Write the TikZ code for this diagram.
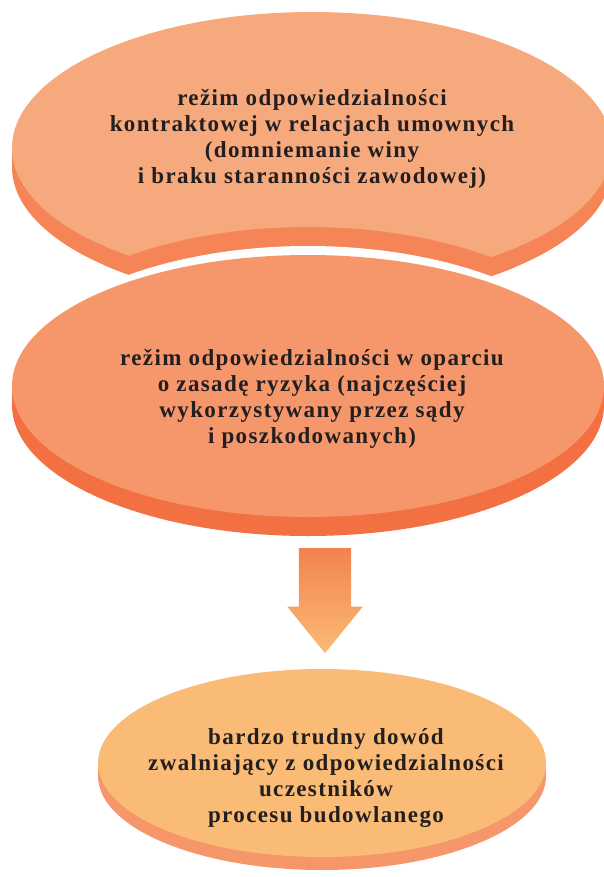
\documentclass[tikz,border=0pt]{standalone}
\usepackage{fontspec}
\setmainfont{Liberation Serif}
\usetikzlibrary{shapes.arrows}

\definecolor{pinkface}{RGB}{247,169,126}
\definecolor{pinkside}{RGB}{245,132,87}
\definecolor{orangeface}{RGB}{246,150,107}
\definecolor{orangeside}{RGB}{243,112,66}
\definecolor{yellowface}{RGB}{250,187,118}
\definecolor{arrowtop}{RGB}{243,130,80}
\definecolor{textdark}{RGB}{35,31,32}

\begin{document}
\begin{tikzpicture}[x=1pt,y=-1pt,
  disktext/.style={text=textdark, font=\fontsize{23}{26}\selectfont\bfseries\addfontfeature{LetterSpace=6}, align=center, inner sep=0pt},
  downarrow/.style={single arrow, shape border rotate=270, draw=none, inner sep=26pt,
    minimum height=105pt, minimum width=75pt, single arrow head extend=11.5pt,
    single arrow tip angle=78, top color=arrowtop, middle color=yellowface, bottom color=yellowface}]
\useasboundingbox (0,0) rectangle (604,877);
%
	% upper disk, cut out below
	\fill[pinkside] (312,167) ellipse [x radius=300, y radius=136];
	\fill[pinkside] (12,148) rectangle (612,167);
	\fill[pinkface] (312,148) ellipse [x radius=300, y radius=136];
	\begin{scope}
		\clip (312,167) ellipse [x radius=300, y radius=136];
		\fill[pinkside] (308,386) ellipse [x radius=312, y radius=159];
	\end{scope}
	\fill[white] (308,405) ellipse [x radius=312, y radius=159];
%
	% middle disk
	\fill[orangeside] (308,405) ellipse [x radius=296, y radius=131];
	\fill[orangeside] (12,386) rectangle (604,405);
	\fill[orangeface] (308,386) ellipse [x radius=296, y radius=131];
%
	% lower disk
	\fill[orangeface] (322,776) ellipse [x radius=224, y radius=94];
	\fill[orangeface] (98,763) rectangle (546,776);
	\fill[yellowface] (322,763) ellipse [x radius=224, y radius=94];
%
	\node[downarrow, anchor=tail] (arrow) at (325,548) {};
%
	\node[disktext] (contract) at (312,139) {režim odpowiedzialności\\kontraktowej w relacjach umownych\\(domniemanie winy\\i braku staranności zawodowej)};
	\node[disktext] (risk) at (312,399) {režim odpowiedzialności w oparciu\\o zasadę ryzyka (najczęściej\\wykorzystywany przez sądy\\i poszkodowanych)};
	\node[disktext] (proof) at (326,778) {bardzo trudny dowód\\zwalniający z odpowiedzialności\\uczestników\\procesu budowlanego};
\end{tikzpicture}
\end{document}
